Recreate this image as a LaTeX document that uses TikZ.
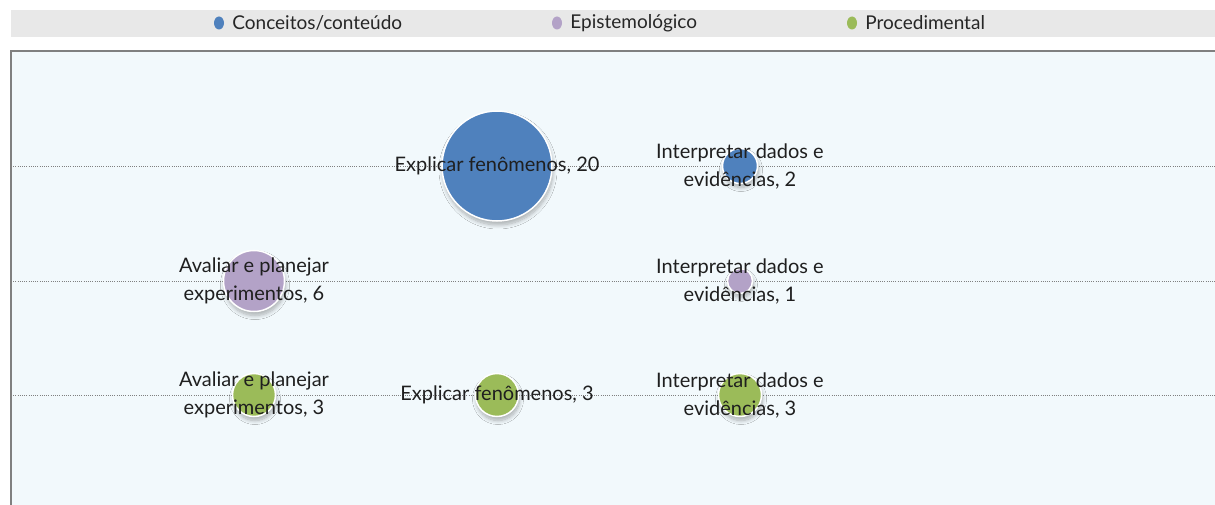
\documentclass[tikz,border=0pt]{standalone}
\usepackage{xcolor}
\usepackage{fontspec}
\setmainfont{Lato}
\usepackage{tikz}
\usetikzlibrary{shadows.blur, shapes.geometric, positioning}
\definecolor{concblue}{HTML}{4F81BD}
\definecolor{epispurple}{HTML}{B3A2C7}
\definecolor{procgreen}{HTML}{9BBB59}
\definecolor{plotbg}{HTML}{F2F9FC}
\definecolor{legendbg}{HTML}{E8E8E8}
\tikzset{
	bubble/.style={
			circle, draw=white, line width=1.5pt, inner sep=0pt, fill=#1,
			blur shadow={shadow xshift=1pt, shadow yshift=-4pt, shadow blur radius=4pt, shadow blur steps=10, shadow opacity=30}
		},
	bubblelabel/.style={align=center, text=black!88, font=\fontsize{20}{28}\selectfont}
}
\begin{document}
\begin{tikzpicture}[x=1pt, y=-1pt,
    gridline/.style={gray, line width=0.9pt, dash pattern=on 1pt off 1.2pt},
    legendmark/.style={ellipse, inner sep=0pt, minimum width=10pt, minimum height=13pt, fill=#1},
    legendtext/.style={anchor=west, inner sep=0pt, text=black!85, font=\fontsize{19}{22}\selectfont}]
    \useasboundingbox (0,0) rectangle (1215,505);
    % legend band
    \fill [legendbg] (11,10) rectangle (1215,37);
    \node (markConc) [legendmark=concblue] at (219,23) {};
    \node (textConc) [legendtext, right=8pt of markConc] {Conceitos/conteúdo};
    \node (markEpis) [legendmark=epispurple] at (557,23) {};
    \node (textEpis) [legendtext, right=8pt of markEpis] {Epistemológico};
    \node (markProc) [legendmark=procgreen] at (852,23) {};
    \node (textProc) [legendtext, right=8pt of markProc] {Procedimental};
    % plot area
    \fill [plotbg] (11,51) rectangle (1215,505);
    \draw [gray, line width=2pt] (11,505) -- (11,51) -- (1215,51);
    \coordinate (rowConcL) at (11,166);
    \coordinate (rowConcR) at (1215,166);
    \coordinate (rowEpisL) at (11,281);
    \coordinate (rowEpisR) at (1215,281);
    \coordinate (rowProcL) at (11,395);
    \coordinate (rowProcR) at (1215,395);
    \draw [gridline] (rowConcL) -- (rowConcR);
    \draw [gridline] (rowEpisL) -- (rowEpisR);
    \draw [gridline] (rowProcL) -- (rowProcR);
    % bubbles
    \node (expConc) [bubble=concblue, minimum size=110pt] at (497,166) {};
    \node (intConc) [bubble=concblue, minimum size=35pt] at (740,166) {};
    \node (avaEpis) [bubble=epispurple, minimum size=61pt] at (254,281) {};
    \node (intEpis) [bubble=epispurple, minimum size=25pt] at (740,281) {};
    \node (avaProc) [bubble=procgreen, minimum size=43pt] at (254,395) {};
    \node (expProc) [bubble=procgreen, minimum size=43pt] at (497,395) {};
    \node (intProc) [bubble=procgreen, minimum size=43pt] at (740,395) {};
    % labels
    \node (expConcLbl) [bubblelabel] at (expConc) {Explicar fenômenos, 20};
    \node (intConcLbl) [bubblelabel] at (intConc) {Interpretar dados e\\evidências, 2};
    \node (avaEpisLbl) [bubblelabel] at (avaEpis) {Avaliar e planejar\\experimentos, 6};
    \node (intEpisLbl) [bubblelabel] at (intEpis) {Interpretar dados e\\evidências, 1};
    \node (avaProcLbl) [bubblelabel] at (avaProc) {Avaliar e planejar\\experimentos, 3};
    \node (expProcLbl) [bubblelabel] at (expProc) {Explicar fenômenos, 3};
    \node (intProcLbl) [bubblelabel] at (intProc) {Interpretar dados e\\evidências, 3};
\end{tikzpicture}
\end{document}
